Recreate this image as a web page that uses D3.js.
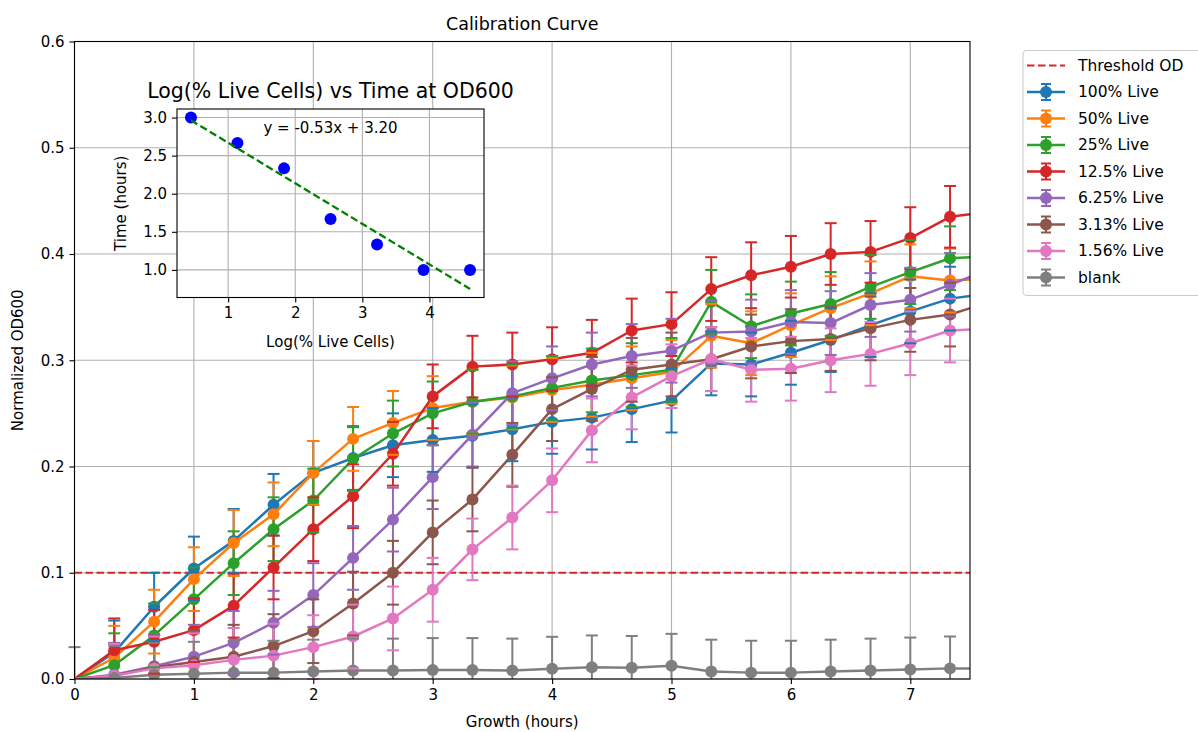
<!DOCTYPE html>
<html>
<head>
<meta charset="utf-8">
<script src="https://cdn.jsdelivr.net/npm/d3@7"></script>
<style>
  body { margin: 0; background: #fff; }
  svg { display: block; font-family: "DejaVu Sans", sans-serif; }
</style>
</head>
<body>
<svg id="chart" width="1198" height="732"></svg>
<script>
// ---- Growth curves: normalized OD600 readings every 20 minutes ----
const hours = [0, 0.333, 0.667, 1, 1.333, 1.667, 2, 2.333, 2.667, 3, 3.333, 3.667,
               4, 4.333, 4.667, 5, 5.333, 5.667, 6, 6.333, 6.667, 7, 7.333, 7.667];

const seriesNames = ["100% Live", "50% Live", "25% Live", "12.5% Live",
                     "6.25% Live", "3.13% Live", "1.56% Live", "blank"];

const od100 = [0, 0.025, 0.068, 0.104, 0.130, 0.164, 0.194, 0.208, 0.220, 0.225, 0.229, 0.235,
               0.242, 0.246, 0.254, 0.262, 0.297, 0.296, 0.307, 0.319, 0.333, 0.346, 0.358, 0.363];
const od50  = [0, 0.020, 0.054, 0.094, 0.128, 0.155, 0.194, 0.226, 0.241, 0.255, 0.261, 0.265,
               0.272, 0.277, 0.283, 0.289, 0.323, 0.316, 0.333, 0.349, 0.363, 0.379, 0.375, 0.377];
const od25  = [0, 0.013, 0.041, 0.075, 0.109, 0.141, 0.168, 0.207, 0.231, 0.250, 0.261, 0.266,
               0.274, 0.281, 0.286, 0.291, 0.355, 0.332, 0.344, 0.353, 0.369, 0.383, 0.396, 0.398];
const od12  = [0, 0.027, 0.035, 0.046, 0.069, 0.105, 0.141, 0.172, 0.212, 0.266, 0.294, 0.296,
               0.301, 0.307, 0.328, 0.334, 0.367, 0.380, 0.388, 0.400, 0.402, 0.415, 0.435, 0.440];
const od6   = [0, 0.004, 0.012, 0.021, 0.034, 0.053, 0.079, 0.114, 0.150, 0.190, 0.230, 0.269,
               0.283, 0.296, 0.304, 0.309, 0.326, 0.327, 0.336, 0.335, 0.352, 0.357, 0.371, 0.386];
const od3   = [0, 0.003, 0.011, 0.016, 0.021, 0.031, 0.045, 0.071, 0.100, 0.138, 0.169, 0.211,
               0.254, 0.273, 0.291, 0.296, 0.301, 0.313, 0.318, 0.320, 0.330, 0.338, 0.343, 0.355];
const od1   = [0, 0.003, 0.010, 0.013, 0.018, 0.022, 0.030, 0.040, 0.057, 0.084, 0.122, 0.152,
               0.187, 0.234, 0.265, 0.285, 0.301, 0.291, 0.292, 0.300, 0.306, 0.316, 0.328, 0.330];
const odBlank = [0, 0.001, 0.004, 0.005, 0.006, 0.006, 0.007, 0.008, 0.008, 0.0085, 0.0085, 0.008,
                 0.0097, 0.011, 0.0105, 0.0125, 0.007, 0.006, 0.006, 0.007, 0.008, 0.009, 0.010, 0.010];

// standard deviations of the replicates
const sd100 = [0, 0.030, 0.032, 0.030, 0.030, 0.029, 0.030, 0.030, 0.030, 0.030, 0.030, 0.030,
               0.030, 0.030, 0.031, 0.030, 0.030, 0.030, 0.030, 0.030, 0.030, 0.030, 0.030, 0.030];
const sd50  = [0, 0.030, 0.030, 0.030, 0.031, 0.030, 0.030, 0.030, 0.030, 0.030, 0.030, 0.030,
               0.030, 0.030, 0.030, 0.030, 0.030, 0.030, 0.030, 0.030, 0.030, 0.030, 0.030, 0.030];
const sd25  = [0, 0.030, 0.030, 0.030, 0.030, 0.030, 0.030, 0.030, 0.031, 0.030, 0.030, 0.030,
               0.030, 0.030, 0.030, 0.030, 0.030, 0.030, 0.030, 0.030, 0.030, 0.030, 0.030, 0.030];
const sd12  = [0, 0.030, 0.030, 0.030, 0.030, 0.030, 0.030, 0.030, 0.030, 0.030, 0.029, 0.030,
               0.030, 0.031, 0.030, 0.030, 0.030, 0.031, 0.029, 0.029, 0.029, 0.029, 0.029, 0.029];
const sd6   = [0, 0.030, 0.030, 0.030, 0.030, 0.030, 0.030, 0.030, 0.030, 0.030, 0.030, 0.030,
               0.030, 0.030, 0.030, 0.030, 0.030, 0.030, 0.030, 0.030, 0.030, 0.030, 0.030, 0.030];
const sd3   = [0, 0.030, 0.030, 0.030, 0.030, 0.030, 0.030, 0.030, 0.030, 0.030, 0.030, 0.030,
               0.030, 0.030, 0.030, 0.030, 0.030, 0.030, 0.030, 0.030, 0.030, 0.030, 0.030, 0.030];
const sd1   = [0, 0.030, 0.030, 0.030, 0.030, 0.030, 0.030, 0.030, 0.030, 0.030, 0.029, 0.030,
               0.030, 0.030, 0.030, 0.030, 0.030, 0.030, 0.030, 0.030, 0.030, 0.030, 0.030, 0.030];
const sdBlank = [0.030, 0.030, 0.030, 0.030, 0.030, 0.030, 0.030, 0.030, 0.030, 0.030, 0.030, 0.030,
                 0.030, 0.030, 0.030, 0.030, 0.030, 0.030, 0.030, 0.030, 0.030, 0.030, 0.030, 0.030];

const thresholdOD = 0.1;

const xTicks = [0, 1, 2, 3, 4, 5, 6, 7];
const yTicks = [0.0, 0.1, 0.2, 0.3, 0.4, 0.5, 0.6];

// ---- Inset: time to reach threshold vs log of live-cell percentage ----
const logLive = [0.446, 1.139, 1.833, 2.526, 3.219, 3.912, 4.605];
const timeToThreshold = [3.0, 2.667, 2.333, 1.667, 1.333, 1.0, 1.0];
const insetXTicks = [1, 2, 3, 4];
const insetYTicks = [1.0, 1.5, 2.0, 2.5, 3.0];

// ---- styling ----
const colors = ["#1f77b4", "#ff7f0e", "#2ca02c", "#d62728", "#9467bd", "#8c564b", "#e377c2", "#7f7f7f"];
const seriesValues = [od100, od50, od25, od12, od6, od3, od1, odBlank];
const seriesErrors = [sd100, sd50, sd25, sd12, sd6, sd3, sd1, sdBlank];

const svg = d3.select("#chart");
const FONT = "DejaVu Sans, sans-serif";
const TXT = "#000";

// main axes frame
const M = { left: 74.5, right: 970, top: 41.5, bottom: 679 };
const x = d3.scaleLinear().domain([0, 7.5]).range([M.left, M.right]);
const y = d3.scaleLinear().domain([0, 0.6]).range([M.bottom, M.top]);

svg.append("defs").append("clipPath").attr("id", "plotClip")
  .append("rect").attr("x", M.left).attr("y", M.top)
  .attr("width", M.right - M.left).attr("height", M.bottom - M.top);

// grid
const grid = svg.append("g").attr("stroke", "#b0b0b0").attr("stroke-width", 1.1);
grid.selectAll(".gx").data(xTicks).join("line")
  .attr("x1", d => x(d)).attr("x2", d => x(d)).attr("y1", M.top).attr("y2", M.bottom);
grid.selectAll(".gy").data(yTicks).join("line")
  .attr("y1", d => y(d)).attr("y2", d => y(d)).attr("x1", M.left).attr("x2", M.right);

const plot = svg.append("g").attr("clip-path", "url(#plotClip)");

// threshold line
plot.append("line")
  .attr("x1", x(0)).attr("x2", x(7.5))
  .attr("y1", y(thresholdOD)).attr("y2", y(thresholdOD))
  .attr("stroke", "#d62728").attr("stroke-width", 2.2)
  .attr("stroke-dasharray", "7.5,3.5");

// error bars, beneath all data lines
const CAP = 6;
seriesValues.forEach((vals, si) => {
  const pts = hours.map((h, i) => ({ h, v: vals[i], e: seriesErrors[si][i] })).filter(p => p.e > 0);
  const g = plot.append("g").attr("stroke", colors[si]).attr("stroke-width", 2);
  g.selectAll("line").data(pts).join("line")
    .attr("x1", p => x(p.h)).attr("x2", p => x(p.h))
    .attr("y1", p => y(p.v - p.e)).attr("y2", p => y(p.v + p.e));
  const caps = [];
  pts.forEach(p => {
    [p.v - p.e, p.v + p.e].forEach(c => {
      if (c >= 0 && c <= 0.6 && p.h <= 7.5) caps.push({ h: p.h, c });
    });
  });
  svg.append("g").attr("stroke", colors[si]).attr("stroke-width", 2)
    .selectAll("line").data(caps).join("line")
    .attr("x1", d => x(d.h) - CAP).attr("x2", d => x(d.h) + CAP)
    .attr("y1", d => y(d.c)).attr("y2", d => y(d.c));
});

// data lines with markers
const lineGen = d3.line().x(d => x(d.h)).y(d => y(d.v));
seriesValues.forEach((vals, si) => {
  const pts = hours.map((h, i) => ({ h, v: vals[i] }));
  plot.append("path").datum(pts)
    .attr("d", lineGen).attr("fill", "none")
    .attr("stroke", colors[si]).attr("stroke-width", 2.5).attr("stroke-linejoin", "round");
  plot.append("g").selectAll("circle")
    .data(pts.filter(p => p.h > 0 && p.h <= 7.5)).join("circle")
    .attr("cx", p => x(p.h)).attr("cy", p => y(p.v)).attr("r", 6)
    .attr("fill", colors[si]);
});

// frame
svg.append("rect").attr("x", M.left).attr("y", M.top)
  .attr("width", M.right - M.left).attr("height", M.bottom - M.top)
  .attr("fill", "none").attr("stroke", "#000").attr("stroke-width", 1.1);

// axes
function styleAxis(g, size) {
  g.select(".domain").remove();
  g.selectAll(".tick line").attr("stroke", "#000").attr("stroke-width", 1.1);
  g.selectAll(".tick text").attr("fill", TXT).style("font-family", FONT).style("font-size", size + "px");
}
svg.append("g").attr("transform", `translate(0,${M.bottom})`)
  .call(d3.axisBottom(x).tickValues(xTicks).tickFormat(d3.format("d")).tickSize(5).tickPadding(5))
  .call(g => styleAxis(g, 15));
svg.append("g").attr("transform", `translate(${M.left},0)`)
  .call(d3.axisLeft(y).tickValues(yTicks).tickFormat(d3.format(".1f")).tickSize(5).tickPadding(5))
  .call(g => styleAxis(g, 15));

// titles / labels
svg.append("text").attr("x", (M.left + M.right) / 2).attr("y", 30)
  .attr("text-anchor", "middle").style("font-size", "17.5px").attr("fill", TXT)
  .text("Calibration Curve");
svg.append("text").attr("x", (M.left + M.right) / 2).attr("y", 727)
  .attr("text-anchor", "middle").style("font-size", "15px").attr("fill", TXT)
  .text("Growth (hours)");
svg.append("text").attr("transform", `translate(23,${(M.top + M.bottom) / 2}) rotate(-90)`)
  .attr("text-anchor", "middle").style("font-size", "15px").attr("fill", TXT)
  .text("Normalized OD600");

// ---- inset ----
const I = { left: 177, right: 484, top: 109, bottom: 297.5 };
const mx = d3.mean(logLive), my = d3.mean(timeToThreshold);
const slope = d3.sum(logLive, (v, i) => (v - mx) * (timeToThreshold[i] - my)) /
              d3.sum(logLive, v => (v - mx) * (v - mx));
const intercept = my - slope * mx;
const fitX = d3.extent(logLive);
const fitPts = fitX.map(v => ({ a: v, b: slope * v + intercept }));

const xr = d3.extent(logLive);
const yr = d3.extent(timeToThreshold.concat(fitPts.map(p => p.b)));
const pad = (r) => [r[0] - 0.05 * (r[1] - r[0]), r[1] + 0.05 * (r[1] - r[0])];
const ix = d3.scaleLinear().domain(pad(xr)).range([I.left, I.right]);
const iy = d3.scaleLinear().domain(pad(yr)).range([I.bottom, I.top]);

svg.append("rect").attr("x", I.left).attr("y", I.top)
  .attr("width", I.right - I.left).attr("height", I.bottom - I.top).attr("fill", "#fff");
const ig = svg.append("g").attr("stroke", "#b0b0b0").attr("stroke-width", 1.1);
ig.selectAll(".gx").data(insetXTicks).join("line")
  .attr("x1", d => ix(d)).attr("x2", d => ix(d)).attr("y1", I.top).attr("y2", I.bottom);
ig.selectAll(".gy").data(insetYTicks).join("line")
  .attr("y1", d => iy(d)).attr("y2", d => iy(d)).attr("x1", I.left).attr("x2", I.right);

svg.append("g").selectAll("circle").data(logLive).join("circle")
  .attr("cx", d => ix(d)).attr("cy", (d, i) => iy(timeToThreshold[i])).attr("r", 6)
  .attr("fill", "#0000ff");
svg.append("path").datum(fitPts)
  .attr("d", d3.line().x(p => ix(p.a)).y(p => iy(p.b)))
  .attr("fill", "none").attr("stroke", "#008000").attr("stroke-width", 2.3)
  .attr("stroke-dasharray", "7.5,3.5");

svg.append("rect").attr("x", I.left).attr("y", I.top)
  .attr("width", I.right - I.left).attr("height", I.bottom - I.top)
  .attr("fill", "none").attr("stroke", "#000").attr("stroke-width", 1.1);

svg.append("g").attr("transform", `translate(0,${I.bottom})`)
  .call(d3.axisBottom(ix).tickValues(insetXTicks).tickFormat(d3.format("d")).tickSize(5).tickPadding(5))
  .call(g => styleAxis(g, 15));
svg.append("g").attr("transform", `translate(${I.left},0)`)
  .call(d3.axisLeft(iy).tickValues(insetYTicks).tickFormat(d3.format(".1f")).tickSize(5).tickPadding(5))
  .call(g => styleAxis(g, 15));

svg.append("text").attr("x", (I.left + I.right) / 2).attr("y", I.top + 0.1 * (I.bottom - I.top))
  .attr("dominant-baseline", "central")
  .attr("text-anchor", "middle").style("font-size", "15px").attr("fill", TXT)
  .text(`y = ${slope.toFixed(2)}x + ${intercept.toFixed(2)}`);
svg.append("text").attr("x", (I.left + I.right) / 2).attr("y", 98)
  .attr("text-anchor", "middle").style("font-size", "20.5px").attr("fill", TXT)
  .text("Log(% Live Cells) vs Time at OD600");
svg.append("text").attr("x", (I.left + I.right) / 2).attr("y", 347)
  .attr("text-anchor", "middle").style("font-size", "15px").attr("fill", TXT)
  .text("Log(% Live Cells)");
svg.append("text").attr("transform", `translate(126,${(I.top + I.bottom) / 2}) rotate(-90)`)
  .attr("text-anchor", "middle").style("font-size", "15px").attr("fill", TXT)
  .text("Time (hours)");

// ---- legend ----
const L = { left: 1023, top: 50.5, row: 26.5 };
const legend = svg.append("g");
legend.append("rect").attr("x", L.left).attr("y", L.top).attr("width", 190).attr("height", 245)
  .attr("rx", 4).attr("fill", "#fff").attr("fill-opacity", 0.8)
  .attr("stroke", "#cccccc").attr("stroke-width", 1.1);
const entries = [{ name: "Threshold OD", threshold: true }].concat(
  seriesNames.map((name, i) => ({ name, color: colors[i] })));
entries.forEach((e, i) => {
  const cy = L.top + 15 + i * L.row;
  const g = legend.append("g");
  if (e.threshold) {
    g.append("line").attr("x1", 1027).attr("x2", 1065).attr("y1", cy).attr("y2", cy)
      .attr("stroke", "#d62728").attr("stroke-width", 2.2).attr("stroke-dasharray", "7.5,3.5");
  } else {
    g.append("line").attr("x1", 1027).attr("x2", 1065).attr("y1", cy).attr("y2", cy)
      .attr("stroke", e.color).attr("stroke-width", 2.5);
    g.append("line").attr("x1", 1046).attr("x2", 1046).attr("y1", cy - 8).attr("y2", cy + 8)
      .attr("stroke", e.color).attr("stroke-width", 2);
    [cy - 8, cy + 8].forEach(c => g.append("line").attr("x1", 1041).attr("x2", 1051)
      .attr("y1", c).attr("y2", c).attr("stroke", e.color).attr("stroke-width", 2));
    g.append("circle").attr("cx", 1046).attr("cy", cy).attr("r", 6).attr("fill", e.color);
  }
  g.append("text").attr("x", 1078).attr("y", cy).attr("dominant-baseline", "central")
    .style("font-size", "15.5px").attr("fill", TXT).text(e.name);
});
</script>
</body>
</html>
